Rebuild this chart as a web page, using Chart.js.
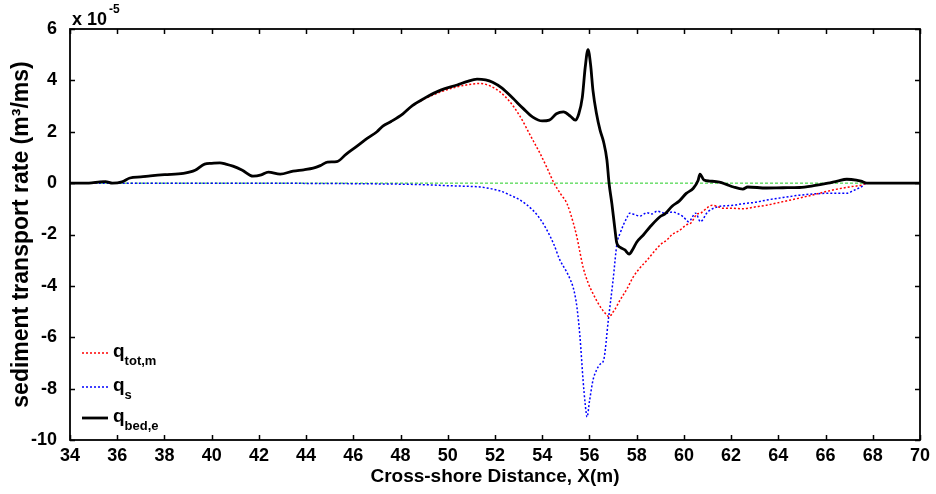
<!DOCTYPE html>
<html>
<head>
<meta charset="utf-8">
<script src="https://cdn.jsdelivr.net/npm/chart.js@4/dist/chart.umd.min.js"></script>
<style>
  html, body { margin: 0; padding: 0; background: #fff; }
  #wrap { width: 936px; height: 494px; }
</style>
</head>
<body>
<div id="wrap"><canvas id="c" width="936" height="494"></canvas></div>
<script>
// Axis ticks
const xTicks = [34, 36, 38, 40, 42, 44, 46, 48, 50, 52, 54, 56, 58, 60, 62, 64, 66, 68, 70];
const yTicks = [-10, -8, -6, -4, -2, 0, 2, 4, 6];

// Bed-load transport q_bed,e (units of 1e-5 m^3/ms)
const bedX = [34.0, 34.8, 35.27, 35.5, 35.8, 36.2, 36.54, 37.0, 37.4, 38.0, 38.8, 39.3, 39.7, 40.0, 40.35, 40.6, 40.9, 41.3, 41.75, 42.1, 42.4, 42.9, 43.45, 43.9, 44.3, 44.6, 44.9, 45.3, 45.7, 46.1, 46.6, 47.0, 47.25, 47.6, 48.1, 48.5, 49.0, 49.7, 50.4, 50.8, 51.24, 51.6, 51.9, 52.3, 52.76, 53.2, 53.6, 54.0, 54.3, 54.6, 54.9, 55.2, 55.4, 55.55, 55.7, 55.82, 55.94, 56.05, 56.15, 56.3, 56.45, 56.6, 56.74, 56.83, 56.95, 57.08, 57.15, 57.3, 57.5, 57.68, 57.85, 58.0, 58.3, 58.57, 59.0, 59.2, 59.5, 59.8, 60.1, 60.4, 60.6, 60.68, 60.85, 61.1, 61.5, 61.8, 62.1, 62.5, 62.7, 63.5, 64.2, 64.9, 65.5, 66.1, 66.5, 66.9, 67.3, 67.5, 67.75, 68.5, 70.0];
const bedY = [0.0, 0.0, 0.05, 0.06, 0.0, 0.05, 0.2, 0.24, 0.28, 0.33, 0.38, 0.5, 0.74, 0.77, 0.79, 0.74, 0.66, 0.5, 0.27, 0.32, 0.43, 0.35, 0.47, 0.52, 0.58, 0.68, 0.82, 0.84, 1.13, 1.4, 1.75, 2.0, 2.22, 2.4, 2.7, 3.02, 3.3, 3.62, 3.82, 3.95, 4.05, 4.02, 3.93, 3.7, 3.3, 2.9, 2.57, 2.42, 2.45, 2.7, 2.77, 2.6, 2.45, 2.7, 3.35, 4.5, 5.2, 4.6, 3.6, 2.7, 2.06, 1.6, 0.9, 0.0, -0.8, -1.8, -2.3, -2.5, -2.6, -2.76, -2.55, -2.3, -2.0, -1.7, -1.3, -1.2, -0.9, -0.7, -0.4, -0.2, 0.1, 0.35, 0.12, 0.08, 0.04, -0.05, -0.15, -0.23, -0.15, -0.19, -0.18, -0.17, -0.1, 0.0, 0.08, 0.15, 0.12, 0.08, 0.0, 0.0, 0.0];

// Total transport q_tot,m
const totX = [35.0, 35.27, 35.5, 35.8, 36.2, 36.54, 37.0, 37.4, 38.0, 38.8, 39.3, 39.7, 40.0, 40.35, 40.6, 40.9, 41.3, 41.75, 42.1, 42.4, 42.9, 43.45, 43.9, 44.3, 44.6, 44.9, 45.3, 45.7, 46.1, 46.6, 47.0, 47.25, 47.6, 48.1, 48.5, 49.0, 49.7, 50.4, 51.0, 51.4, 51.8, 52.2, 52.6, 53.06, 53.5, 53.9, 54.2, 54.5, 54.8, 55.05, 55.3, 55.47, 55.6, 55.73, 55.95, 56.15, 56.45, 56.74, 56.82, 57.05, 57.3, 57.6, 57.85, 58.14, 58.44, 58.8, 59.0, 59.3, 59.5, 59.8, 60.1, 60.3, 60.56, 60.7, 61.0, 61.2, 61.4, 61.66, 62.0, 62.5, 63.0, 63.5, 64.2, 64.9, 65.5, 66.3, 67.0, 67.5, 67.75, 68.0];
const totY = [0.0, 0.05, 0.06, 0.0, 0.05, 0.2, 0.24, 0.28, 0.33, 0.38, 0.5, 0.74, 0.77, 0.79, 0.74, 0.66, 0.5, 0.27, 0.32, 0.43, 0.35, 0.47, 0.52, 0.58, 0.68, 0.82, 0.84, 1.13, 1.4, 1.75, 2.0, 2.22, 2.4, 2.7, 3.0, 3.27, 3.55, 3.75, 3.85, 3.88, 3.78, 3.56, 3.2, 2.6, 1.85, 1.17, 0.6, 0.0, -0.45, -0.8, -1.5, -2.1, -2.7, -3.27, -3.9, -4.3, -4.8, -5.14, -5.2, -4.95, -4.55, -4.1, -3.66, -3.3, -3.0, -2.6, -2.4, -2.2, -2.0, -1.85, -1.63, -1.55, -1.2, -1.17, -0.95, -0.86, -0.9, -0.98, -0.98, -1.0, -0.93, -0.86, -0.72, -0.58, -0.45, -0.27, -0.15, -0.08, 0.0, 0.0];

// Suspended transport q_s
const susX = [35.05, 40.0, 44.0, 47.0, 49.0, 50.0, 51.0, 51.36, 52.2, 52.6, 53.06, 53.6, 53.9, 54.2, 54.5, 54.75, 55.0, 55.2, 55.35, 55.47, 55.6, 55.73, 55.82, 55.9, 56.0, 56.15, 56.3, 56.45, 56.6, 56.8, 57.0, 57.17, 57.3, 57.45, 57.6, 57.7, 57.9, 58.14, 58.44, 58.65, 58.86, 59.1, 59.3, 59.5, 59.7, 59.96, 60.2, 60.5, 60.7, 61.0, 61.4, 62.1, 62.5, 63.0, 63.5, 64.2, 64.9, 65.5, 66.3, 66.9, 67.2, 67.5, 67.75, 67.9];
const susY = [0.0, 0.0, -0.01, -0.03, -0.06, -0.1, -0.13, -0.15, -0.3, -0.45, -0.66, -1.05, -1.38, -1.83, -2.4, -3.0, -3.4, -3.78, -4.2, -4.83, -6.0, -7.67, -8.6, -9.1, -8.5, -7.67, -7.28, -7.05, -6.9, -5.33, -3.78, -2.33, -1.95, -1.6, -1.32, -1.17, -1.22, -1.28, -1.15, -1.2, -1.09, -1.15, -1.17, -1.12, -1.17, -1.3, -1.5, -1.17, -1.5, -1.13, -0.93, -0.86, -0.8, -0.75, -0.66, -0.56, -0.47, -0.42, -0.39, -0.39, -0.28, -0.15, 0.0, 0.0];

// Zero reference line
const zeroX = [34, 70];
const zeroY = [0, 0];

const pts = (xs, ys) => xs.map((x, i) => ({ x: x, y: ys[i] }));

const FONT = '"Liberation Sans", Arial, Helvetica, sans-serif';

// Inward tick marks on all four sides plus the frame
const framePlugin = {
  id: 'frame',
  afterDraw(chart) {
    const { ctx, chartArea: a, scales: { x, y } } = chart;
    ctx.save();
    ctx.strokeStyle = '#000';
    ctx.lineWidth = 1.5;
    ctx.beginPath();
    const len = 5;
    xTicks.forEach(v => {
      const px = Math.round(x.getPixelForValue(v)) + 0.5;
      ctx.moveTo(px, a.bottom); ctx.lineTo(px, a.bottom - len);
      ctx.moveTo(px, a.top); ctx.lineTo(px, a.top + len);
    });
    yTicks.forEach(v => {
      const py = Math.round(y.getPixelForValue(v)) + 0.5;
      ctx.moveTo(a.left, py); ctx.lineTo(a.left + len, py);
      ctx.moveTo(a.right, py); ctx.lineTo(a.right - len, py);
    });
    ctx.stroke();
    ctx.lineWidth = 1.8;
    ctx.strokeRect(a.left, a.top, a.right - a.left, a.bottom - a.top);

    // exponent label above the y axis
    ctx.fillStyle = '#000';
    ctx.textBaseline = 'alphabetic';
    ctx.textAlign = 'left';
    ctx.font = 'bold 18px ' + FONT;
    ctx.fillText('x 10', a.left + 2, a.top - 4);
    const w = ctx.measureText('x 10').width;
    ctx.font = 'bold 12px ' + FONT;
    ctx.fillText('-5', a.left + 4 + w, a.top - 16);

    // legend with subscripted labels
    const items = [
      { color: '#ff0000', dash: [2, 2], width: 1.5, ly: 353, base: 357, sub: 'tot,m' },
      { color: '#0000ff', dash: [2, 2], width: 1.5, ly: 387, base: 391, sub: 's' },
      { color: '#000000', dash: [], width: 2.8, ly: 418, base: 422, sub: 'bed,e' }
    ];
    items.forEach(it => {
      ctx.save();
      ctx.strokeStyle = it.color;
      ctx.lineWidth = it.width;
      ctx.setLineDash(it.dash);
      ctx.beginPath();
      ctx.moveTo(a.left + 12, it.ly);
      ctx.lineTo(a.left + 38, it.ly);
      ctx.stroke();
      ctx.restore();
      ctx.font = 'bold 19px ' + FONT;
      ctx.fillText('q', a.left + 43, it.base);
      const qw = ctx.measureText('q').width;
      ctx.font = 'bold 13px ' + FONT;
      ctx.fillText(it.sub, a.left + 43 + qw, it.base + 8);
    });
    ctx.restore();
  }
};

new Chart(document.getElementById('c'), {
  type: 'line',
  data: {
    datasets: [
      { label: 'q_bed,e', data: pts(bedX, bedY), borderColor: '#000', borderWidth: 2.8, order: 1 },
      { label: 'q_tot,m', data: pts(totX, totY), borderColor: '#ff0000', borderWidth: 1.5, borderDash: [2, 2], order: 2 },
      { label: 'q_s', data: pts(susX, susY), borderColor: '#0000ff', borderWidth: 1.5, borderDash: [2, 2], order: 3 },
      { label: 'zero', data: pts(zeroX, zeroY), borderColor: '#22cc22', borderWidth: 1, borderDash: [3, 2], order: 4 }
    ]
  },
  options: {
    responsive: false,
    animation: false,
    events: [],
    elements: {
      point: { radius: 0 },
      line: { cubicInterpolationMode: 'monotone', fill: false }
    },
    layout: { padding: { top: 29, right: 16, left: 0, bottom: 0 } },
    plugins: { legend: { display: false }, tooltip: { enabled: false } },
    scales: {
      x: {
        type: 'linear', min: 34, max: 70,
        afterBuildTicks: s => { s.ticks = xTicks.map(v => ({ value: v })); },
        afterFit: s => { s.height = 54; },
        grid: { display: false },
        border: { display: false },
        ticks: { color: '#000', font: { family: FONT, size: 18, weight: 'bold' }, padding: -3, maxRotation: 0, autoSkip: false },
        title: { display: true, text: 'Cross-shore Distance, X(m)', color: '#000', font: { family: FONT, size: 19, weight: 'bold' }, padding: { top: 0, bottom: 6 } }
      },
      y: {
        type: 'linear', min: -10, max: 6,
        afterBuildTicks: s => { s.ticks = yTicks.map(v => ({ value: v })); },
        afterFit: s => { s.width = 70; },
        grid: { display: false },
        border: { display: false },
        ticks: { color: '#000', font: { family: FONT, size: 18, weight: 'bold' }, padding: 5, autoSkip: false },
        title: { display: true, text: 'sediment transport rate (m\u00B3/ms)', color: '#000', font: { family: FONT, size: 23, weight: 'bold' }, padding: { top: 8, bottom: 0 } }
      }
    }
  },
  plugins: [framePlugin]
});
</script>
</body>
</html>
